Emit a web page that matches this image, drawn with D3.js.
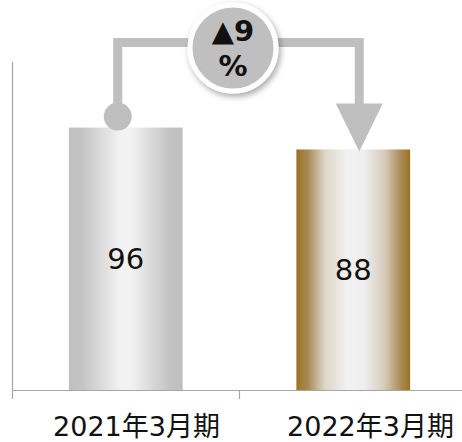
<!DOCTYPE html>
<html><head><meta charset="utf-8">
<script src="https://cdn.jsdelivr.net/npm/d3@7"></script>
<style>html,body{margin:0;padding:0;background:#fff;}svg{display:block;}</style>
</head><body>
<svg id="c" width="462" height="442"></svg>
<script>
const categories = ["2021年3月期", "2022年3月期"];
const values = [96, 88];
const changeLabel = ["▲9", "%"];
const yDomain = [0, 120];

const svg = d3.select("#c");
const W = 462, H = 442;
const x = d3.scaleBand().domain(categories).range([12, 467]).paddingInner(0.5).paddingOuter(0.25);
const y = d3.scaleLinear().domain(yDomain).range([390, 62]);
const labelX = d3.scalePoint().domain(categories).range([136.5, 370.5]);
const bw = x.bandwidth();

const defs = svg.append("defs");
const g1 = defs.append("linearGradient").attr("id", "gSilver").attr("x1", "0").attr("x2", "1").attr("y1", "0").attr("y2", "0");
[[0, "#c0c0c0"], [0.12, "#c4c4c4"], [0.45, "#f2f2f2"], [0.55, "#f2f2f2"], [0.88, "#c4c4c4"], [1, "#bebebe"]]
  .forEach(s => g1.append("stop").attr("offset", s[0]).attr("stop-color", s[1]));
const g2 = defs.append("linearGradient").attr("id", "gGold").attr("x1", "0").attr("x2", "1").attr("y1", "0").attr("y2", "0");
[[0, "#9a7321"], [0.1, "#a98a55"], [0.25, "#ddd5c8"], [0.45, "#f2f2f2"], [0.6, "#eeeeee"], [0.78, "#d5cab8"], [0.92, "#a98a55"], [1, "#9a7321"]]
  .forEach(s => g2.append("stop").attr("offset", s[0]).attr("stop-color", s[1]));
const f = defs.append("filter").attr("id", "sh").attr("x", "-30%").attr("y", "-30%").attr("width", "160%").attr("height", "160%");
f.append("feDropShadow").attr("dx", 2).attr("dy", 3).attr("stdDeviation", 3).attr("flood-color", "#000").attr("flood-opacity", 0.35);

// axes
const axisColor = "#a6a6a6";
svg.append("line").attr("x1", 12.5).attr("x2", 12.5).attr("y1", y(yDomain[1])).attr("y2", y(0) + 9)
  .attr("stroke", axisColor).attr("stroke-width", 1.2);
svg.append("line").attr("x1", 12).attr("x2", W).attr("y1", y(0) + 0.5).attr("y2", y(0) + 0.5)
  .attr("stroke", axisColor).attr("stroke-width", 1.2);
const bx = x(categories[0]) - x.step() * x.paddingOuter() + x.step();
svg.append("line").attr("x1", bx).attr("x2", bx).attr("y1", y(0)).attr("y2", y(0) + 9)
  .attr("stroke", axisColor).attr("stroke-width", 1.2);

// bars
svg.selectAll("rect.bar").data(categories).join("rect").attr("class", "bar")
  .attr("x", d => x(d)).attr("width", bw)
  .attr("y", (d, i) => y(values[i])).attr("height", (d, i) => y(0) - y(values[i]))
  .attr("fill", (d, i) => i === 0 ? "url(#gSilver)" : "url(#gGold)");

// value labels
svg.selectAll("text.val").data(categories).join("text").attr("class", "val")
  .attr("x", d => x(d) + bw / 2)
  .attr("y", (d, i) => (y(values[i]) + y(0)) / 2)
  .attr("dy", "0.36em").attr("text-anchor", "middle")
  .attr("font-family", "'DejaVu Sans', sans-serif").attr("font-size", 29)
  .attr("fill", "#111").text((d, i) => values[i]);

// category labels
svg.selectAll("text.cat").data(categories).join("text").attr("class", "cat")
  .attr("x", d => labelX(d)).attr("y", 436).attr("text-anchor", "middle")
  .attr("font-family", "'DejaVu Sans', 'Noto Sans CJK JP', sans-serif").attr("font-size", 27)
  .attr("fill", "#111").text(d => d);

// connector
const c1 = x(categories[0]) + bw / 2 - 8;
const c2 = x(categories[1]) + bw / 2 + 6;
const topY = 42.5;
const conn = "#bfbfbf";
const dotY = y(values[0]) - 11;
const tipY = y(values[1]) + 2;
svg.append("path").attr("d", `M${c1},${dotY} V${topY} H${c2} V${tipY - 44}`)
  .attr("fill", "none").attr("stroke", conn).attr("stroke-width", 9);
svg.append("circle").attr("cx", c1).attr("cy", dotY).attr("r", 14).attr("fill", conn);
svg.append("path").attr("d", `M${c2 - 23.5},${tipY - 48} L${c2 + 23.5},${tipY - 48} L${c2},${tipY} Z`).attr("fill", conn);

// badge
const bxC = 233, byC = 48;
svg.append("circle").attr("cx", bxC).attr("cy", byC).attr("r", 43).attr("fill", conn)
  .attr("stroke", "#fff").attr("stroke-width", 5).attr("filter", "url(#sh)");
svg.selectAll("text.chg").data(changeLabel).join("text").attr("class", "chg")
  .attr("x", bxC).attr("y", (d, i) => 41 + i * 35).attr("text-anchor", "middle")
  .attr("font-family", "'DejaVu Sans', sans-serif").attr("font-weight", "bold").attr("font-size", 29)
  .attr("fill", "#111").text(d => d);
</script>
</body></html>
